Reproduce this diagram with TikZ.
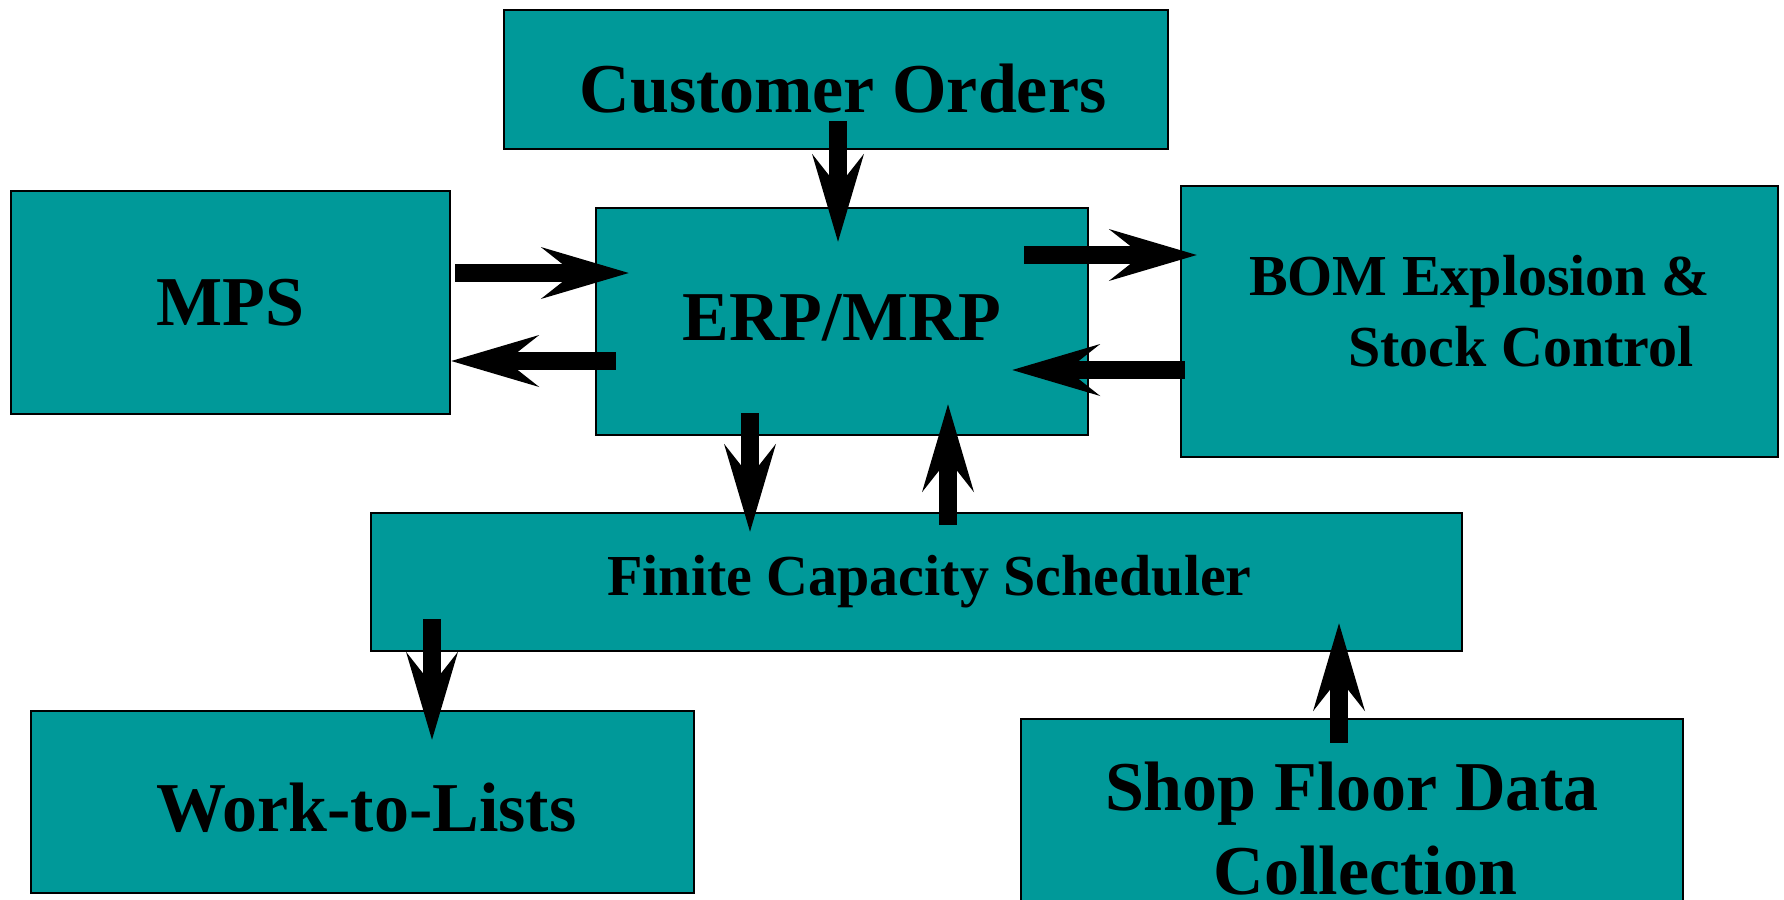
\documentclass[tikz,border=0pt]{standalone}
\usepackage{fontspec}
\setmainfont{Liberation Serif}
\usetikzlibrary{arrows.meta,calc}
\definecolor{boxteal}{RGB}{0,153,153}
\tikzset{
  box/.style={rectangle, draw=black, fill=boxteal, line width=2.5pt, inner sep=0pt,
    font=\bfseries\fontsize{70}{84}\selectfont},
  smallbox/.style={box, font=\bfseries\fontsize{58}{71}\selectfont},
  flow/.style={line width=18pt, -{Stealth[length=88pt,width=52pt,inset=33pt,line width=0pt]}}
}
\begin{document}
\begin{tikzpicture}[x=1pt,y=-1pt]
\useasboundingbox (0,0) rectangle (1784,899);
\clip (0,0) rectangle (1784,899);
\node[box, minimum width=664pt, minimum height=139pt, text height=68pt, text depth=1.3pt] (co) at (836,79.5) {\hspace*{14pt}Customer Orders};
\node[box, minimum width=439pt, minimum height=223pt] (mps) at (230.5,302.5) {MPS};
\node[box, minimum width=492pt, minimum height=227pt, text height=48pt, text depth=11pt] (erp) at (842,321.5) {ERP/MRP};
\node[smallbox, minimum width=597pt, minimum height=271pt, align=left, text height=90pt, text depth=1pt] (bom) at (1479.5,321.5) {BOM Explosion \&\\\hspace*{99pt}Stock Control};
\node[smallbox, minimum width=1091pt, minimum height=138pt] (fcs) at (916.5,582) {\hspace*{26pt}Finite Capacity Scheduler};
\node[box, minimum width=663pt, minimum height=182pt, text height=60pt, text depth=1pt] (wtl) at (362.5,802) {\hspace*{8pt}Work-to-Lists};
\node[box, minimum width=662pt, minimum height=220pt, align=center] (sfdc) at (1352,829) {Shop Floor Data\\\hspace*{27pt}Collection};
% connectors
\draw[flow] ($(co.south)+(2,-29)$) -- ($(erp.north)+(-4,35)$);
\draw[flow] ($(mps.east)+(4,-29.5)$) -- ($(erp.west)+(34,-48.5)$);
\draw[flow] ($(erp.west)+(21,39.5)$) -- ($(mps.east)+(0,58.5)$);
\draw[flow] ($(erp.east)+(-65,-66.5)$) -- ($(bom.west)+(17,-66.5)$);
\draw[flow] ($(bom.west)+(5,48.5)$) -- ($(erp.east)+(-77,48.5)$);
\draw[flow] ($(erp.south)+(-92,-23)$) -- ($(fcs.north)+(-166.5,20)$);
\draw[flow] ($(fcs.north)+(31.5,13)$) -- ($(erp.south)+(106,-32)$);
\draw[flow] ($(fcs.south)+(-484.5,-33)$) -- ($(wtl.north)+(69.5,30)$);
\draw[flow] ($(sfdc.north)+(-13,25)$) -- ($(fcs.south)+(422.5,-29)$);
\end{tikzpicture}
\end{document}
